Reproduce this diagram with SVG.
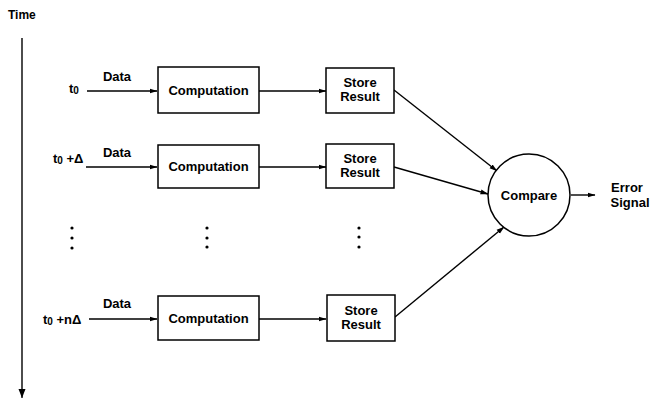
<svg xmlns="http://www.w3.org/2000/svg" width="651" height="401" viewBox="0 0 651 401">
<defs>
<marker id="ah" markerWidth="8" markerHeight="6" refX="7.5" refY="3" orient="auto" markerUnits="userSpaceOnUse">
<path d="M0,0.5 L8,3 L0,5.5 Z" fill="#000"/>
</marker>
<marker id="ahT" markerWidth="8" markerHeight="10" refX="9" refY="4" orient="auto" markerUnits="userSpaceOnUse">
<path d="M0,0.5 L9,4 L0,7.5 Z" fill="#000"/>
</marker>
</defs>
<style>
text{font-family:"Liberation Sans",Arial,sans-serif;font-weight:bold;font-size:13px;fill:#000}
.box{fill:#fff;stroke:#000;stroke-width:1.5}
.ln{fill:none;stroke:#000;stroke-width:1.4}
.sub{font-size:10px}
.c{text-anchor:middle}
</style>
<rect width="651" height="401" fill="#fff"/>
<g id="time">
<text x="8" y="19" style="font-size:12px">Time</text>
<line class="ln" x1="22" y1="38" x2="22" y2="398" marker-end="url(#ahT)"/>
</g>
<g id="connectors">
<line class="ln" x1="87" y1="91" x2="157" y2="91" marker-end="url(#ah)"/>
<line class="ln" x1="86" y1="167" x2="157" y2="167" marker-end="url(#ah)"/>
<line class="ln" x1="89" y1="319" x2="157" y2="319" marker-end="url(#ah)"/>
<line class="ln" x1="259" y1="91" x2="326" y2="91" marker-end="url(#ah)"/>
<line class="ln" x1="259" y1="167" x2="326" y2="167" marker-end="url(#ah)"/>
<line class="ln" x1="259" y1="319" x2="326" y2="319" marker-end="url(#ah)"/>
<line class="ln" x1="394" y1="90" x2="497" y2="171" marker-end="url(#ah)"/>
<line class="ln" x1="394" y1="167" x2="488" y2="194" marker-end="url(#ah)"/>
<line class="ln" x1="395" y1="317" x2="504" y2="227" marker-end="url(#ah)"/>
<line class="ln" x1="571" y1="195" x2="595" y2="195" marker-end="url(#ah)"/>
</g>
<g id="labels">
<text x="69" y="93">t<tspan class="sub" dy="1">0</tspan></text>
<text x="53" y="163">t<tspan class="sub" dy="1">0</tspan><tspan dy="-1"> +Δ</tspan></text>
<text x="43" y="324">t<tspan class="sub" dy="1">0</tspan><tspan dy="-1"> +nΔ</tspan></text>
<text x="117" y="81" class="c">Data</text>
<text x="117" y="157" class="c">Data</text>
<text x="117" y="308" class="c">Data</text>
</g>
<g id="comp1"><rect class="box" x="158" y="67" width="101" height="46"/><text x="208.5" y="95" class="c">Computation</text></g>
<g id="comp2"><rect class="box" x="158" y="145" width="101" height="43"/><text x="208.5" y="171" class="c">Computation</text></g>
<g id="comp3"><rect class="box" x="158" y="296" width="101" height="44"/><text x="208.5" y="323" class="c">Computation</text></g>
<g id="store1"><rect class="box" x="326" y="68" width="68" height="45"/><text x="360" y="87" class="c">Store</text><text x="360" y="101" class="c">Result</text></g>
<g id="store2"><rect class="box" x="326" y="144" width="68" height="44"/><text x="360" y="163" class="c">Store</text><text x="360" y="177" class="c">Result</text></g>
<g id="store3"><rect class="box" x="327" y="295" width="68" height="46"/><text x="361" y="315" class="c">Store</text><text x="361" y="329" class="c">Result</text></g>
<g id="compare"><circle cx="529" cy="195" r="41" fill="#fff" stroke="#000" stroke-width="1.5"/><text x="529" y="200" class="c">Compare</text></g>
<g id="error"><text x="627" y="192" class="c">Error</text><text x="630" y="207" class="c">Signal</text></g>
<g id="dots" fill="#000">
<circle cx="72" cy="228" r="1.6"/><circle cx="72" cy="238" r="1.6"/><circle cx="72" cy="248" r="1.6"/>
<circle cx="207" cy="228" r="1.6"/><circle cx="207" cy="238" r="1.6"/><circle cx="207" cy="247" r="1.6"/>
<circle cx="359" cy="228" r="1.6"/><circle cx="359" cy="237" r="1.6"/><circle cx="359" cy="247" r="1.6"/>
</g>
</svg>
